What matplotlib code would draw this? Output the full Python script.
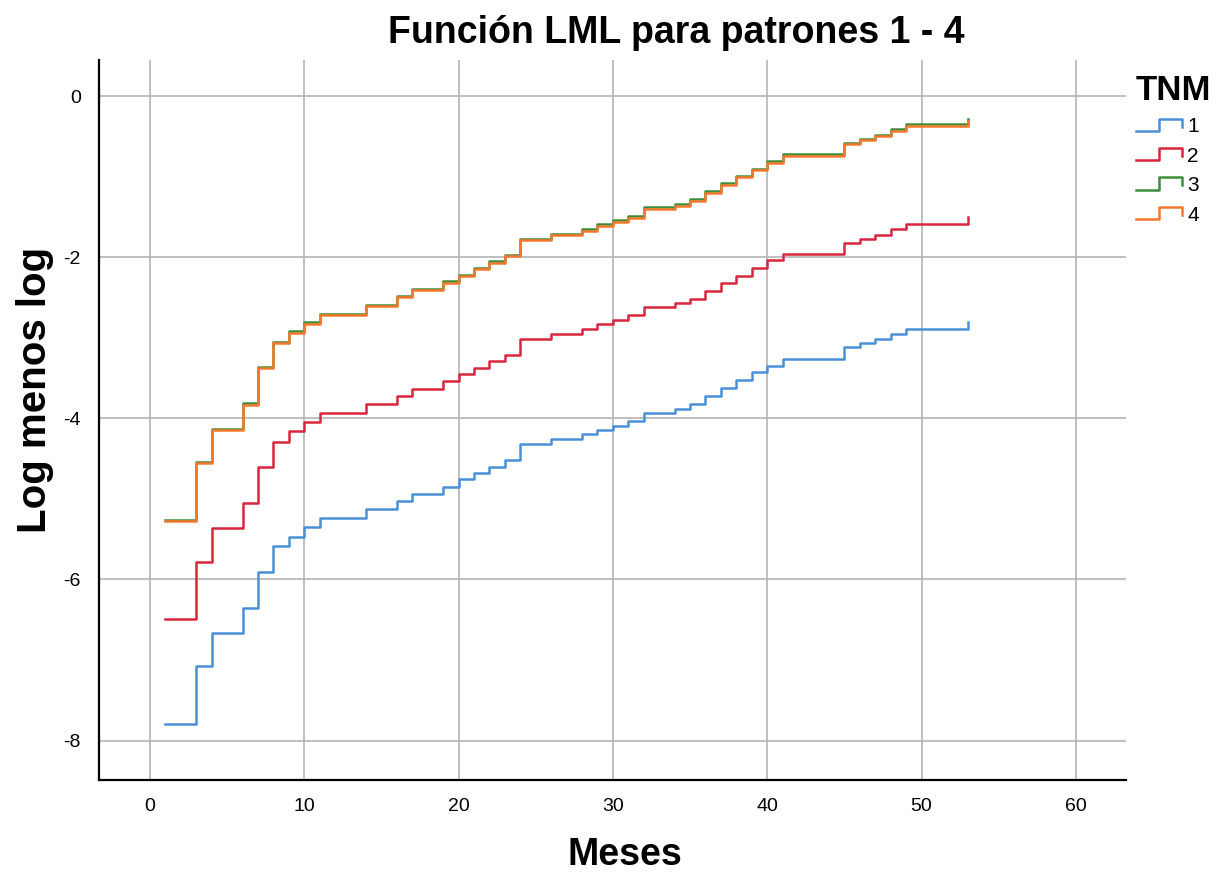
import matplotlib
matplotlib.use("Agg")
import matplotlib.pyplot as plt
from matplotlib.lines import Line2D
from matplotlib.legend_handler import HandlerBase

# months where the curves step
meses = [1, 3, 4, 6, 7, 8, 9, 10, 11, 14, 16, 17, 19, 20, 21, 22, 23, 24, 26, 28,
         29, 30, 31, 32, 34, 35, 36, 37, 38, 39, 40, 41, 45, 46, 47, 48, 49, 53]

tnm1 = [-7.80, -7.08, -6.67, -6.36, -5.91, -5.59, -5.47, -5.35, -5.24, -5.13,
        -5.03, -4.94, -4.85, -4.76, -4.68, -4.60, -4.52, -4.32, -4.26, -4.20,
        -4.14, -4.09, -4.03, -3.93, -3.88, -3.82, -3.72, -3.63, -3.52, -3.43,
        -3.35, -3.26, -3.12, -3.07, -3.02, -2.96, -2.89, -2.81]
tnm2 = [-6.49, -5.79, -5.36, -5.05, -4.60, -4.29, -4.16, -4.05, -3.94, -3.82,
        -3.72, -3.64, -3.54, -3.45, -3.37, -3.29, -3.21, -3.01, -2.96, -2.89,
        -2.83, -2.78, -2.72, -2.62, -2.57, -2.52, -2.42, -2.32, -2.23, -2.13,
        -2.04, -1.96, -1.82, -1.77, -1.72, -1.65, -1.59, -1.50]
tnm3 = [-5.26, -4.54, -4.13, -3.81, -3.36, -3.05, -2.92, -2.81, -2.70, -2.59,
        -2.48, -2.39, -2.30, -2.22, -2.13, -2.05, -1.97, -1.77, -1.71, -1.65,
        -1.59, -1.54, -1.49, -1.38, -1.34, -1.28, -1.18, -1.08, -0.99, -0.90,
        -0.81, -0.72, -0.58, -0.53, -0.48, -0.41, -0.35, -0.28]
tnm4 = [-5.28, -4.56, -4.15, -3.83, -3.38, -3.07, -2.94, -2.83, -2.72, -2.61,
        -2.50, -2.41, -2.32, -2.24, -2.15, -2.07, -1.99, -1.79, -1.73, -1.67,
        -1.61, -1.56, -1.51, -1.40, -1.36, -1.30, -1.20, -1.10, -1.01, -0.92,
        -0.83, -0.74, -0.60, -0.55, -0.50, -0.43, -0.37, -0.31]

etiquetas = ["1", "2", "3", "4"]
colores = ["#4a90d9", "#d9263e", "#3b8e3b", "#f7782c"]

plt.rcParams["font.family"] = ["Liberation Sans", "DejaVu Sans"]
plt.rcParams["axes.unicode_minus"] = False


class StepHandler(HandlerBase):
    # little step glyph like the SPSS legend
    def create_artists(self, legend, orig_handle, xdescent, ydescent,
                       width, height, fontsize, trans):
        y0 = -ydescent + height * 0.1
        y1 = -ydescent + height * 0.95
        xs = [-xdescent, -xdescent + width * 0.5, -xdescent + width * 0.5,
              -xdescent + width, -xdescent + width]
        ys = [y0, y0, y1, y1, y0 + (y1 - y0) * 0.35]
        ln = Line2D(xs, ys, color=orig_handle.get_color(),
                    linewidth=orig_handle.get_linewidth(), transform=trans)
        return [ln]


fig = plt.figure(figsize=(12.21, 8.76), dpi=100)
ax = fig.add_axes([99 / 1221, 96 / 876, 1027 / 1221, 720 / 876])

series = [tnm1, tnm2, tnm3, tnm4]
handles = []
for vals, col, lab in zip(series, colores, etiquetas):
    h, = ax.step(meses, vals, where="post", color=col, linewidth=1.8, label=lab)
    handles.append(h)

ax.set_xlim(-3.3, 63.25)
ax.set_ylim(-8.49, 0.447)
ax.set_xticks([0, 10, 20, 30, 40, 50, 60])
ax.set_yticks([0, -2, -4, -6, -8])
ax.grid(True, color="#b4b4b4", linewidth=1.2)
ax.set_axisbelow(True)
for s in ["top", "right"]:
    ax.spines[s].set_visible(False)
for s in ["left", "bottom"]:
    ax.spines[s].set_linewidth(1.6)
    ax.spines[s].set_color("black")
ax.tick_params(length=0, labelsize=14, pad=13)

fig.text(676 / 1221, 1 - 33 / 876, "Función LML para patrones 1 - 4",
         weight="bold", fontsize=27, ha="center", va="center")
fig.text(625 / 1221, 1 - 855 / 876, "Meses", weight="bold",
         fontsize=27, ha="center", va="center")
fig.text(35 / 1221, 1 - 390 / 876, "Log menos log", weight="bold",
         fontsize=29, ha="center", va="center", rotation=90)

leg = fig.legend(handles=handles, labels=etiquetas, loc="upper left",
                 bbox_to_anchor=(1136 / 1221, 1 - 74 / 876), frameon=False,
                 title="TNM", alignment="left", fontsize=15,
                 title_fontproperties={"weight": "bold", "size": 25},
                 handler_map={Line2D: StepHandler()}, handlelength=2.2,
                 handletextpad=0.25, labelspacing=0.5, borderaxespad=0,
                 borderpad=0)

fig.savefig("out.png", dpi=100)
